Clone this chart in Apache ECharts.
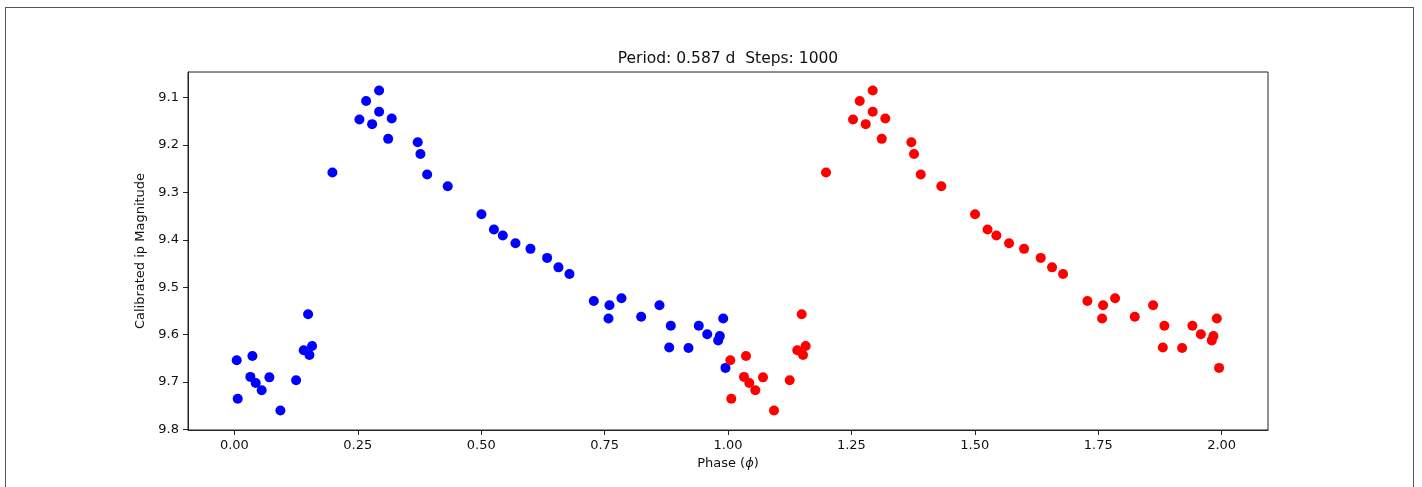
<!DOCTYPE html>
<html>
<head>
<meta charset="utf-8">
<title>Phase-folded light curve</title>
<script src="https://cdn.jsdelivr.net/npm/echarts@6/dist/echarts.min.js"></script>
<style>
  html, body { margin: 0; padding: 0; background: #fff; }
  #chart { position: absolute; left: 0; top: 0; width: 1422px; height: 487px; }
  #frame {
    position: absolute; left: 5px; top: 7px; width: 1407px; height: 520px;
    border: 1px solid #555; pointer-events: none;
  }
</style>
</head>
<body>
<div id="chart"></div>
<div id="frame"></div>
<script>
// Folded phase of each observation (first cycle, 0..1)
const phase = [
  0.0047, 0.0067, 0.0365, 0.0324, 0.0432, 0.0553, 0.0709, 0.0932,
  0.1250, 0.1404, 0.1520, 0.1574, 0.1493, 0.1986, 0.2533, 0.2669,
  0.2932, 0.2932, 0.2790, 0.3187, 0.3115, 0.3714, 0.3769, 0.3905,
  0.4322, 0.5005, 0.5258, 0.5437, 0.5694, 0.5998, 0.6336, 0.6565,
  0.6788, 0.7281, 0.7599, 0.7579, 0.7842, 0.8241, 0.8612, 0.8841,
  0.8809, 0.9200, 0.9408, 0.9579, 0.9834, 0.9801, 0.9903, 0.9949
];
// Calibrated ip magnitude of each observation
const magnitude = [
  9.654, 9.735, 9.645, 9.689, 9.702, 9.717, 9.690, 9.760,
  9.696, 9.633, 9.643, 9.624, 9.557, 9.258, 9.146, 9.107,
  9.085, 9.130, 9.156, 9.144, 9.187, 9.194, 9.219, 9.262,
  9.287, 9.346, 9.378, 9.391, 9.407, 9.419, 9.438, 9.458,
  9.472, 9.529, 9.538, 9.566, 9.523, 9.562, 9.538, 9.581,
  9.627, 9.628, 9.581, 9.599, 9.603, 9.612, 9.566, 9.670
];
const xTicks = [0, 0.25, 0.5, 0.75, 1.0, 1.25, 1.5, 1.75, 2.0];
const yTicks = [9.1, 9.2, 9.3, 9.4, 9.5, 9.6, 9.7, 9.8];
const titleText = 'Period: 0.587 d  Steps: 1000';

// The second cycle repeats the same observations one phase later
const firstCycle = phase.map((p, i) => [p, magnitude[i]]);
const secondCycle = phase.map((p, i) => [p + 1, magnitude[i]]);

const FONT = 'DejaVu Sans';
const INK = '#111';
const SPINE = '#222';

const chart = echarts.init(document.getElementById('chart'), null, { renderer: 'canvas' });
chart.setOption({
  backgroundColor: '#fff',
  animation: false,
  textStyle: { fontFamily: FONT, color: INK },
  grid: {
    left: 188, top: 72, width: 1080, height: 358,
    show: true, borderColor: SPINE, borderWidth: 1, backgroundColor: '#fff'
  },
  graphic: [{
    type: 'text', x: 728, y: 59,
    style: {
      text: titleText, align: 'center', verticalAlign: 'middle',
      fontFamily: FONT, fontSize: 15.5, fill: INK
    }
  }],
  xAxis: {
    type: 'value', min: -0.094, max: 2.094,
    name: 'Phase ({i|ϕ})', nameLocation: 'middle', nameGap: 27,
    nameTextStyle: {
      fontFamily: FONT, fontSize: 13, color: INK, verticalAlign: 'top',
      rich: { i: { fontFamily: FONT, fontSize: 13, fontStyle: 'italic', color: INK } }
    },
    axisLine: { show: true, onZero: false, lineStyle: { color: SPINE, width: 1 } },
    axisTick: { show: true, inside: false, length: 5, customValues: xTicks, lineStyle: { color: SPINE } },
    axisLabel: {
      customValues: xTicks, margin: 9, fontFamily: FONT, fontSize: 13, color: INK,
      formatter: v => v.toFixed(2)
    },
    splitLine: { show: false }
  },
  yAxis: {
    type: 'value', inverse: true, min: 9.046, max: 9.801,
    name: 'Calibrated ip Magnitude', nameLocation: 'middle', nameGap: 36, nameRotate: 90,
    nameTextStyle: { fontFamily: FONT, fontSize: 13, color: INK },
    axisLine: { show: true, onZero: false, lineStyle: { color: SPINE, width: 1 } },
    axisTick: { show: true, inside: false, length: 5, customValues: yTicks, lineStyle: { color: SPINE } },
    axisLabel: {
      customValues: yTicks, margin: 9, fontFamily: FONT, fontSize: 13, color: INK,
      formatter: v => v.toFixed(1)
    },
    splitLine: { show: false }
  },
  series: [
    {
      type: 'scatter', data: firstCycle, symbol: 'circle', symbolSize: 10,
      itemStyle: { color: '#0000ff', opacity: 1 }, emphasis: { disabled: true }
    },
    {
      type: 'scatter', data: secondCycle, symbol: 'circle', symbolSize: 10,
      itemStyle: { color: '#ff0000', opacity: 1 }, emphasis: { disabled: true }
    }
  ]
});
</script>
</body>
</html>
